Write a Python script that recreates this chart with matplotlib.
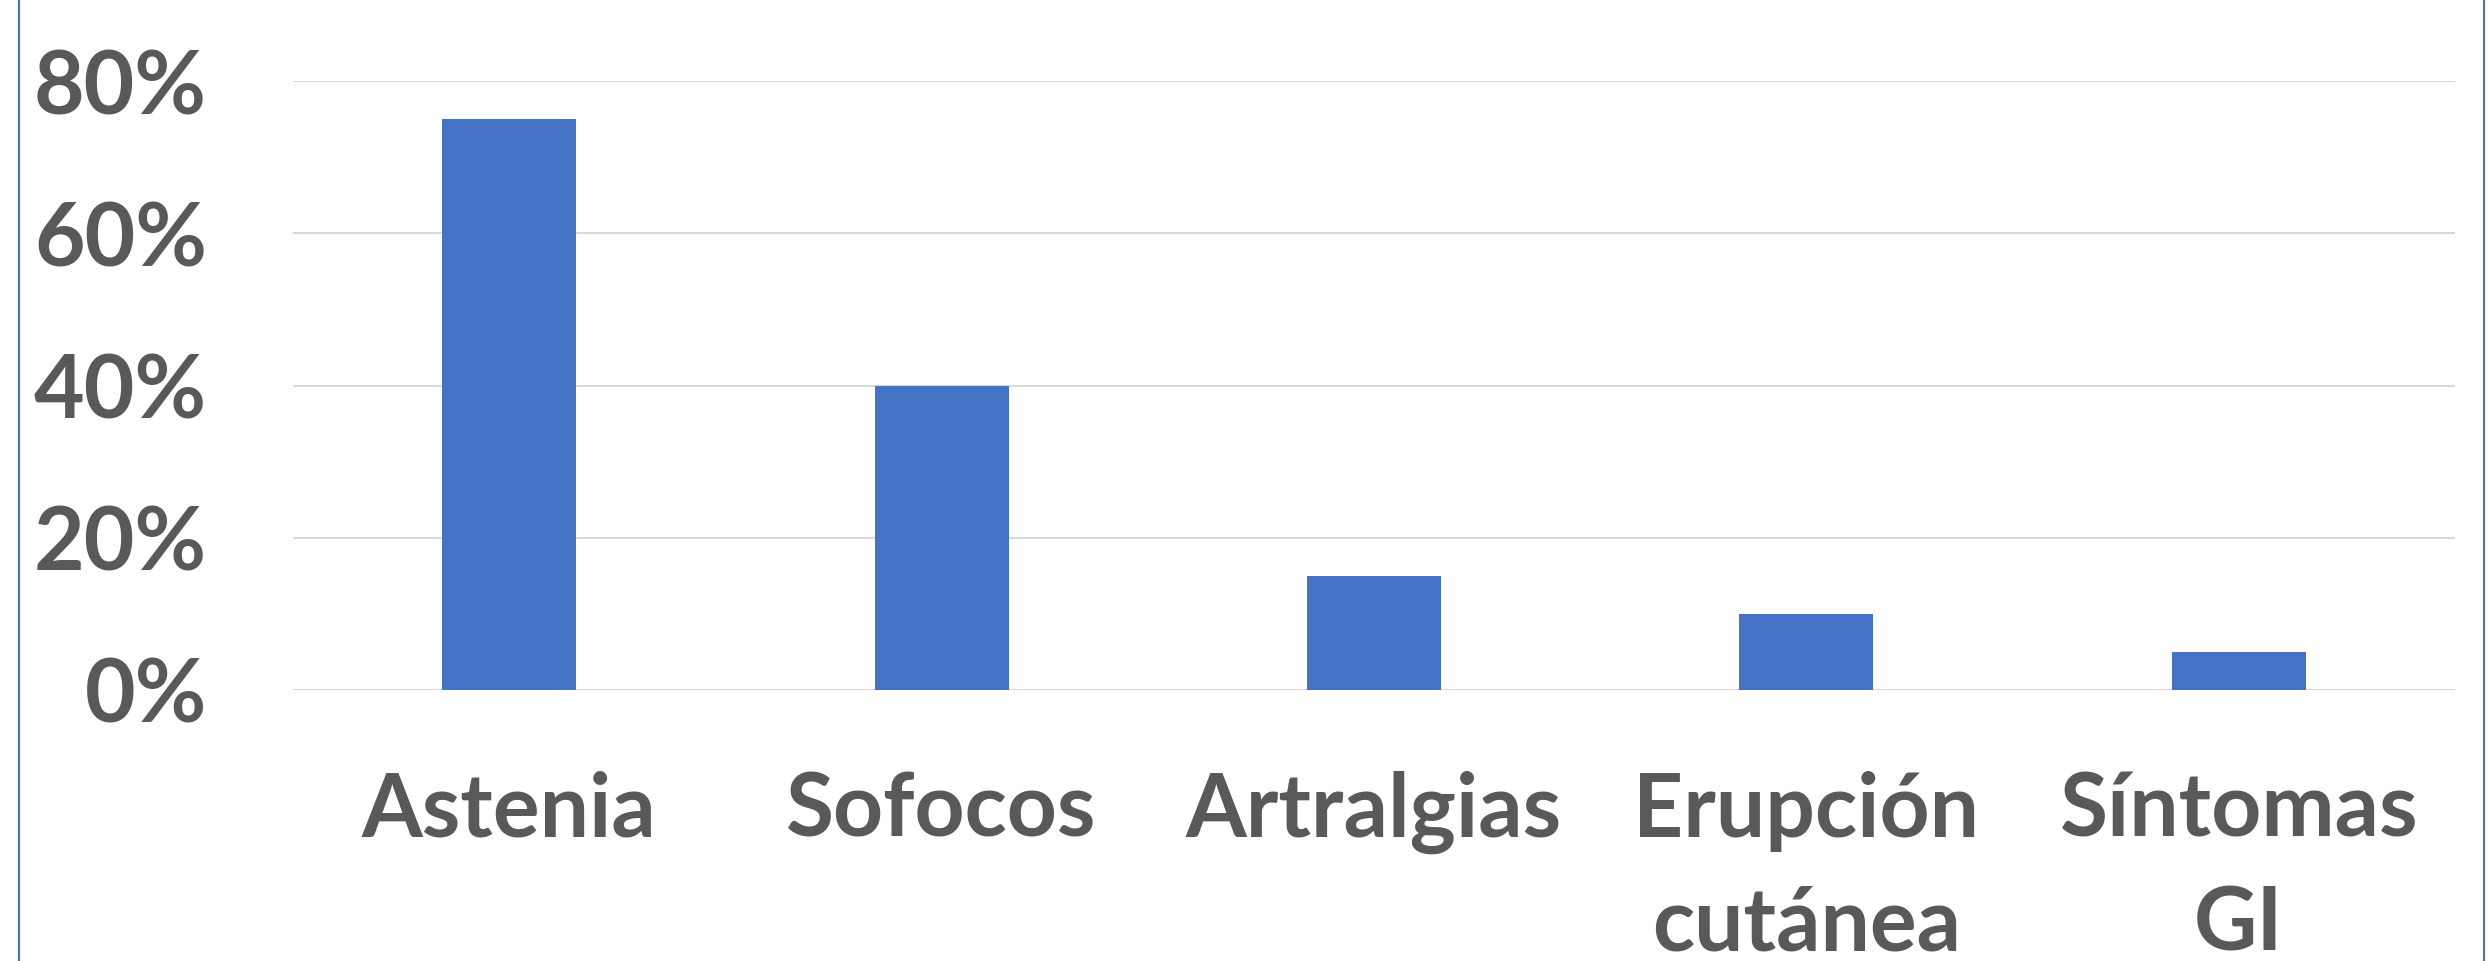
import matplotlib
matplotlib.use("Agg")
import matplotlib.pyplot as plt
from matplotlib.lines import Line2D

categories = ["Astenia", "Sofocos", "Artralgias", "Erupción\ncutánea", "Síntomas\nGI"]
values = [75, 40, 15, 10, 5]
yticks = [0, 20, 40, 60, 80]
ytick_labels = ["0%", "20%", "40%", "60%", "80%"]

bar_color = "#4472C4"
text_color = "#595959"
grid_color = "#D9D9D9"

plt.rcParams['font.family'] = ['Lato', 'DejaVu Sans']

fig = plt.figure(figsize=(24.88, 9.61), dpi=100)
ax = fig.add_axes([0.1178, 0.282, 0.8689, 0.6337])

x = list(range(len(categories)))
ax.bar(x, values, width=0.31, color=bar_color, zorder=3)

ax.set_xlim(-0.5, len(categories) - 0.5)
ax.set_ylim(0, 80)
ax.set_yticks(yticks)
ax.set_yticklabels(ytick_labels)
ax.set_xticks(x)
ax.set_xticklabels(categories, linespacing=1.5)

for lab in ax.get_xticklabels() + ax.get_yticklabels():
    lab.set_fontsize(63)
    lab.set_fontweight("bold")
    lab.set_color(text_color)

ax.tick_params(axis="both", length=0)
ax.tick_params(axis="y", pad=62)
ax.tick_params(axis="x", pad=58)
for s in ax.spines.values():
    s.set_visible(False)
ax.yaxis.grid(True, color=grid_color, linewidth=1.5, zorder=0)
ax.set_axisbelow(True)

# blue frame edges at left and right of the figure
fig.add_artist(Line2D([0.0075, 0.0075], [0, 1], color=bar_color, linewidth=1.5,
                      transform=fig.transFigure))
fig.add_artist(Line2D([0.9985, 0.9985], [0, 1], color=bar_color, linewidth=1.5,
                      transform=fig.transFigure))

fig.savefig("out.png", dpi=100, facecolor="white")
